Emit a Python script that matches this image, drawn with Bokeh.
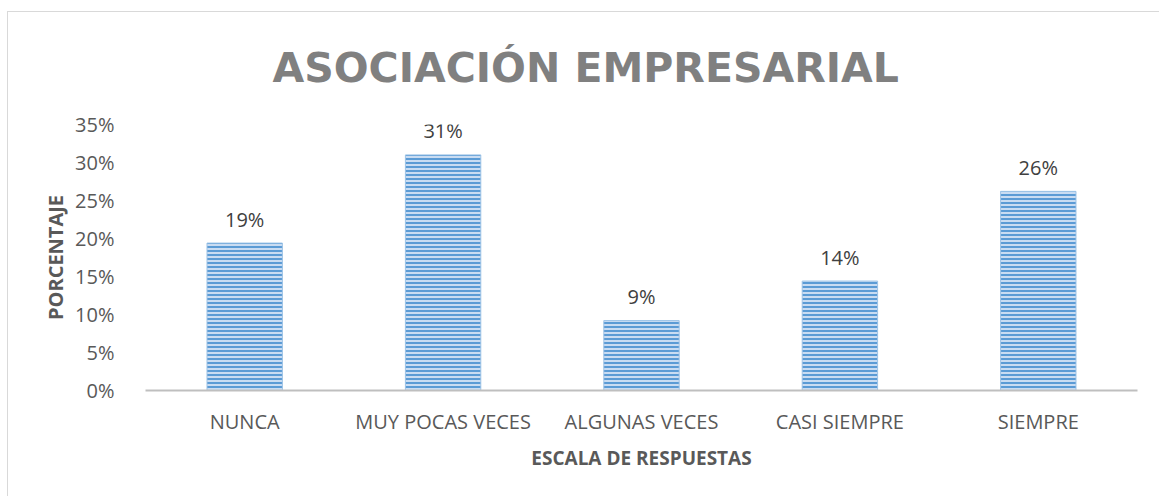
from bokeh.plotting import figure
from bokeh.models import (FactorRange, Range1d, FixedTicker, PrintfTickFormatter,
                          ColumnDataSource, LabelSet, Title)
from bokeh.core.properties import value
from bokeh.embed import file_html
from bokeh.resources import INLINE

title_text = "ASOCIACIÓN EMPRESARIAL"
categories = ["NUNCA", "MUY POCAS VECES", "ALGUNAS VECES", "CASI SIEMPRE", "SIEMPRE"]
values = [19.4, 31.0, 9.2, 14.4, 26.2]
labels = [f"{round(v)}%" for v in values]
y_ticks = [0, 5, 10, 15, 20, 25, 30, 35]

FONT = "Open Sans"
src = ColumnDataSource(dict(cat=categories, val=values, lab=labels))

p = figure(x_range=FactorRange(*categories, range_padding=0), y_range=Range1d(0, 35),
           frame_width=992, frame_height=266,
           min_border_left=137, min_border_right=22, min_border_top=112, min_border_bottom=106,
           output_backend="svg", toolbar_location=None,
           styles={"margin-left": "7px", "margin-top": "11px",
                   "border-left": "1px solid #d9d9d9", "border-top": "1px solid #d9d9d9"})
p.outline_line_color = None
p.xgrid.grid_line_color = None
p.ygrid.grid_line_color = None

p.vbar(x="cat", top="val", width=0.38, source=src,
       fill_color="#c9dcf2", line_color="#9dc3e6", line_width=1,
       hatch_pattern="horizontal_line", hatch_color="#5b9bd5",
       hatch_scale=4, hatch_weight=2)

ls = LabelSet(x="cat", y="val", text="lab", source=src, y_offset=24,
              text_align="center", text_baseline="middle",
              text_font=value(FONT), text_font_size="20px", text_color="#404040")
p.add_layout(ls)

p.title = Title(text=title_text, align="left", offset=127, vertical_align="top",
                text_font="DejaVu Sans", text_font_size="41px", text_font_style="bold",
                text_color="#808080", standoff=62)

ya = p.yaxis[0]
ya.ticker = FixedTicker(ticks=y_ticks)
ya.formatter = PrintfTickFormatter(format="%d%%")
ya.axis_line_color = None
ya.major_tick_line_color = None
ya.minor_tick_line_color = None
ya.major_label_standoff = 25
ya.major_label_text_font = FONT
ya.major_label_text_font_size = "20px"
ya.major_label_text_color = "#595959"
ya.axis_label = "PORCENTAJE"
ya.axis_label_text_font = FONT
ya.axis_label_text_font_size = "20px"
ya.axis_label_text_font_style = "bold"
ya.axis_label_text_color = "#595959"
ya.axis_label_standoff = 3

xa = p.xaxis[0]
xa.axis_line_color = "#bfbfbf"
xa.axis_line_width = 2
xa.major_tick_line_color = None
xa.minor_tick_line_color = None
xa.major_label_standoff = 11
xa.major_label_text_font = FONT
xa.major_label_text_font_size = "20px"
xa.major_label_text_color = "#595959"
xa.axis_label = "ESCALA DE RESPUESTAS"
xa.axis_label_text_font = FONT
xa.axis_label_text_font_size = "19px"
xa.axis_label_text_font_style = "bold"
xa.axis_label_text_color = "#595959"
xa.axis_label_standoff = 7

open("out.html", "w").write(file_html(p, INLINE))
